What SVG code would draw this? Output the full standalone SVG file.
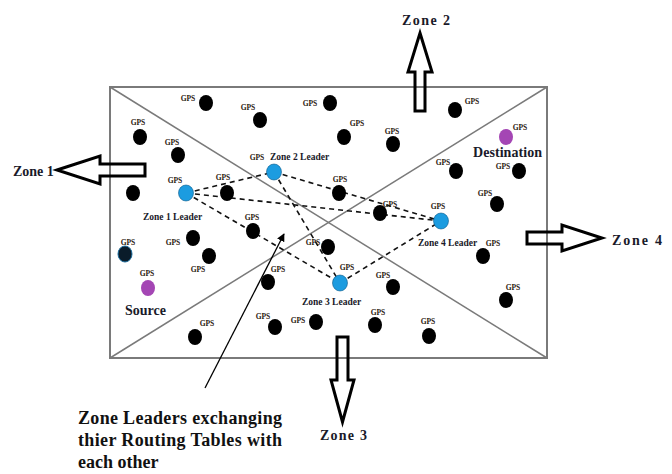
<svg xmlns="http://www.w3.org/2000/svg" width="672" height="474" viewBox="0 0 672 474">
<style>
.frame{fill:none;stroke:#7a7a7a;stroke-width:2}
.diag{stroke:#7a7a7a;stroke-width:1.5;fill:none}
.dash{stroke:#111;stroke-width:1.6;stroke-dasharray:5 4;fill:none}
.zarrow{fill:none;stroke:#000;stroke-width:3;stroke-linejoin:miter}
.dot{fill:#000}
.leader{fill:#1c9ce0;stroke:#0b5a8a;stroke-width:0.6}
.endpt{fill:#a446b4}
.gps{font-family:"Liberation Serif",serif;font-weight:bold;font-size:7.5px;fill:#2a2010;text-anchor:middle}
.lbl{font-family:"Liberation Serif",serif;font-weight:bold;font-size:9.5px;fill:#1a1a2a}
.big{font-family:"Liberation Serif",serif;font-weight:bold;font-size:14px;fill:#1a1a2a}
.note{font-family:"Liberation Serif",serif;font-weight:bold;font-size:18px;fill:#111}
</style>
<defs>
<marker id="ah" viewBox="0 0 10 10" refX="9" refY="5" markerWidth="8" markerHeight="8" orient="auto" markerUnits="userSpaceOnUse">
<path d="M0,0 L10,5 L0,10 z" fill="#000"/>
</marker>
</defs>
<rect width="672" height="474" fill="#fff"/>
<g id="area">
<rect class="frame" x="110" y="87" width="437" height="271"/>
<line class="diag" x1="110" y1="87" x2="547" y2="358"/>
<line class="diag" x1="110" y1="358" x2="547" y2="87"/>
</g>
<g id="connectors">
<line class="dash" x1="186" y1="193" x2="274" y2="172"/>
<line class="dash" x1="186" y1="193" x2="441" y2="221"/>
<line class="dash" x1="186" y1="193" x2="340" y2="283"/>
<line class="dash" x1="274" y1="172" x2="441" y2="221"/>
<line class="dash" x1="274" y1="172" x2="340" y2="283"/>
<line class="dash" x1="340" y1="283" x2="441" y2="221"/>
<line x1="205" y1="388" x2="284" y2="234" stroke="#000" stroke-width="1.3" marker-end="url(#ah)"/>
</g>
<g id="zone1">
<polygon class="zarrow" points="57,170 100,156 100,164 145,164 145,176 100,176 100,184"/>
<text class="big" x="13" y="176">Zone 1</text>
</g>
<g id="zone2">
<polygon class="zarrow" points="420,33 432,72 425,72 425,111 415,111 415,72 408,72"/>
<text class="big" x="402" y="25" textLength="48">Zone 2</text>
</g>
<g id="zone3">
<polygon class="zarrow" points="337,337 348,337 348,380 354,380 342.5,422 331,380 337,380"/>
<text class="big" x="320" y="440" textLength="47">Zone 3</text>
</g>
<g id="zone4">
<polygon class="zarrow" points="527,232 562,232 562,225 602,238 562,251 562,244 527,244"/>
<text class="big" x="612" y="245" textLength="50">Zone 4</text>
</g>
<g id="nodes">
<g id="n1"><ellipse class="dot" cx="206" cy="103" rx="7" ry="8"/><text class="gps" x="188" y="101">GPS</text></g>
<g id="n2"><ellipse class="dot" cx="260" cy="120" rx="7" ry="8"/><text class="gps" x="248" y="110">GPS</text></g>
<g id="n3"><ellipse class="dot" cx="140" cy="137" rx="7" ry="8"/><text class="gps" x="138" y="125">GPS</text></g>
<g id="n4"><ellipse class="dot" cx="178" cy="155" rx="7" ry="8"/><text class="gps" x="172" y="145">GPS</text></g>
<g id="n5"><ellipse class="dot" cx="133" cy="193" rx="7" ry="8"/></g>
<g id="n6"><ellipse class="dot" cx="227" cy="193" rx="7" ry="8"/><text class="gps" x="223" y="180">GPS</text></g>
<g id="n7"><ellipse class="dot" cx="330" cy="103" rx="7" ry="8"/><text class="gps" x="310" y="106">GPS</text></g>
<g id="n8"><ellipse class="dot" cx="344" cy="137" rx="7" ry="8"/><text class="gps" x="357" y="126">GPS</text></g>
<g id="n9"><ellipse class="dot" cx="393" cy="144" rx="7" ry="8"/><text class="gps" x="392" y="134">GPS</text></g>
<g id="n10"><ellipse class="dot" cx="339" cy="193" rx="7" ry="8"/><text class="gps" x="340" y="182">GPS</text></g>
<g id="n11"><ellipse class="dot" cx="380" cy="213" rx="7" ry="8"/><text class="gps" x="390" y="207">GPS</text></g>
<g id="n12"><ellipse class="dot" cx="455" cy="110" rx="7" ry="8"/><text class="gps" x="472" y="104">GPS</text></g>
<g id="n13"><ellipse class="dot" cx="456" cy="171" rx="7" ry="8"/><text class="gps" x="443" y="165">GPS</text></g>
<g id="n14"><ellipse class="dot" cx="519" cy="171" rx="7" ry="8"/><text class="gps" x="503" y="169">GPS</text></g>
<g id="n15"><ellipse class="dot" cx="497" cy="204" rx="7" ry="8"/><text class="gps" x="485" y="196">GPS</text></g>
<g id="n16"><ellipse class="dot" cx="253" cy="231" rx="7" ry="8"/><text class="gps" x="252" y="220">GPS</text></g>
<g id="n17"><ellipse cx="125" cy="254" rx="7" ry="8" fill="#0a1c2a" stroke="#1c6c9c" stroke-width="1"/><text class="gps" x="128" y="245">GPS</text></g>
<g id="n18"><ellipse class="dot" cx="193" cy="238" rx="7" ry="8"/><text class="gps" x="173" y="245">GPS</text></g>
<g id="n19"><ellipse class="dot" cx="209" cy="256" rx="7" ry="8"/><text class="gps" x="198" y="272">GPS</text></g>
<g id="n20"><ellipse class="dot" cx="328" cy="247" rx="7" ry="8"/><text class="gps" x="313" y="245">GPS</text></g>
<g id="n21"><ellipse class="dot" cx="268" cy="282" rx="7" ry="8"/><text class="gps" x="278" y="272">GPS</text></g>
<g id="n22"><ellipse class="dot" cx="393" cy="287" rx="7" ry="8"/><text class="gps" x="383" y="278">GPS</text></g>
<g id="n23"><ellipse class="dot" cx="483" cy="256" rx="7" ry="8"/><text class="gps" x="493" y="246">GPS</text></g>
<g id="n24"><ellipse class="dot" cx="506" cy="300" rx="7" ry="8"/><text class="gps" x="513" y="290">GPS</text></g>
<g id="n25"><ellipse class="dot" cx="195" cy="337" rx="7" ry="8"/><text class="gps" x="207" y="326">GPS</text></g>
<g id="n26"><ellipse class="dot" cx="275" cy="327" rx="7" ry="8"/><text class="gps" x="263" y="319">GPS</text></g>
<g id="n27"><ellipse class="dot" cx="316" cy="322" rx="7" ry="8"/><text class="gps" x="298" y="323">GPS</text></g>
<g id="n28"><ellipse class="dot" cx="375" cy="325" rx="7" ry="8"/><text class="gps" x="378" y="315">GPS</text></g>
<g id="n29"><ellipse class="dot" cx="429" cy="336" rx="7" ry="8"/><text class="gps" x="428" y="324">GPS</text></g>
</g>
<g id="leader1"><ellipse class="leader" cx="186" cy="193" rx="7.5" ry="8"/><text class="gps" x="175" y="183">GPS</text><text class="lbl" x="143" y="220">Zone 1 Leader</text></g>
<g id="leader2"><ellipse class="leader" cx="274" cy="172" rx="7.5" ry="8"/><text class="gps" x="257" y="160">GPS</text><text class="lbl" x="270" y="160">Zone 2 Leader</text></g>
<g id="leader3"><ellipse class="leader" cx="340" cy="283" rx="7.5" ry="8"/><text class="gps" x="347" y="270">GPS</text><text class="lbl" x="302" y="305">Zone 3 Leader</text></g>
<g id="leader4"><ellipse class="leader" cx="441" cy="221" rx="7.5" ry="8"/><text class="gps" x="438" y="209">GPS</text><text class="lbl" x="418" y="246">Zone 4 Leader</text></g>
<g id="source"><ellipse class="endpt" cx="148" cy="288" rx="7" ry="8"/><text class="gps" x="147" y="276">GPS</text><text class="big" x="125" y="315">Source</text></g>
<g id="destination"><ellipse class="endpt" cx="506" cy="137" rx="7" ry="8"/><text class="gps" x="520" y="130">GPS</text><text class="big" x="473" y="157" textLength="69">Destination</text></g>
<g id="note">
<text class="note" x="78" y="424" textLength="204">Zone Leaders exchanging</text>
<text class="note" x="78" y="446" textLength="204">thier Routing Tables with</text>
<text class="note" x="78" y="468">each other</text>
</g>
</svg>
